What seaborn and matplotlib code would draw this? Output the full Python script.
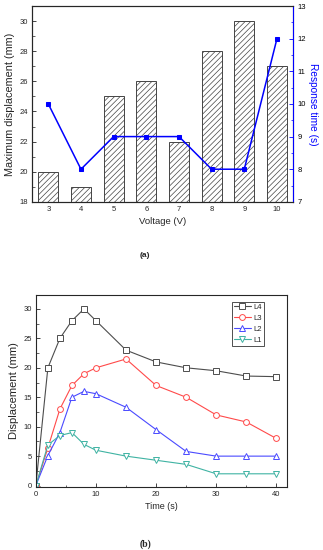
import matplotlib
matplotlib.use("Agg")
import matplotlib.pyplot as plt
import seaborn as sns
import numpy as np
import pandas as pd
from matplotlib.ticker import MultipleLocator

# panel (a)
voltage = [3, 4, 5, 6, 7, 8, 9, 10]
max_disp = [20, 19, 25, 26, 22, 28, 30, 27]
resp_time = [10, 8, 9, 9, 9, 8, 8, 12]

# panel (b)
time_s = [0, 2, 4, 6, 8, 10, 15, 20, 25, 30, 35, 40]
L4 = [0, 20, 25, 28, 30, 28, 23, 21, 20, 19.5, 18.6, 18.5]
L3 = [0, 6.4, 13, 17, 19, 20, 21.5, 17, 15, 12, 10.8, 8]
L2 = [0, 5.1, 9, 15, 16, 15.6, 13.3, 9.5, 5.8, 5, 5, 5]
L1 = [0, 6.9, 8.5, 9, 7, 6, 5, 4.3, 3.6, 2, 2, 2]
series_names = ['L4', 'L3', 'L2', 'L1']
series_vals = [L4, L3, L2, L1]
series_colors = ['#4d4d4d', '#ff4a4a', '#4a4aff', '#3fb3a3']
series_markers = ['s', 'o', '^', 'v']

sns.set_style('ticks')
plt.rcParams['font.family'] = ['Liberation Sans', 'DejaVu Sans']
plt.rcParams['hatch.linewidth'] = 0.5
plt.rcParams['axes.linewidth'] = 0.8

fig = plt.figure(figsize=[3.23, 5.5], dpi=100, facecolor='white')

# ---- (a) bars + response time
ax = fig.add_axes([0.099, 0.633, 0.809, 0.356])
sns.barplot(x=voltage, y=max_disp, native_scale=True, width=0.61, color='white',
            edgecolor='#444444', linewidth=0.7, hatch='//////', ax=ax)
ax.set_xlim(2.5, 10.5)
ax.set_ylim(18, 31)
ax.set_xticks(voltage)
ax.yaxis.set_major_locator(MultipleLocator(2))
ax.yaxis.set_minor_locator(MultipleLocator(1))
ax.tick_params(direction='in', labelsize=5.5, length=3, width=0.6, pad=3)
ax.tick_params(which='minor', direction='in', length=1.8, width=0.5)
ax.set_xlabel('Voltage (V)', fontsize=6.8, labelpad=3)
ax.set_ylabel('Maximum displacement (mm)', fontsize=7.8, labelpad=3)

ax2 = ax.twinx()
sns.lineplot(x=voltage, y=resp_time, color='#0000ff', linewidth=1.1, marker='s',
             markersize=3.3, markeredgecolor='#0000ff', ax=ax2)
ax2.set_ylim(7, 13)
ax2.yaxis.set_major_locator(MultipleLocator(1))
ax2.yaxis.set_minor_locator(MultipleLocator(0.5))
ax2.tick_params(direction='in', labelsize=5.5, length=3, width=0.6, pad=3, colors='#0000ff', labelcolor='black')
ax2.tick_params(which='minor', direction='in', length=1.8, width=0.5, colors='#0000ff')
ax2.spines['right'].set_color('#0000ff')
ax2.set_ylabel('Response time (s)', fontsize=7.3, color='#0000ff', rotation=270, labelpad=9)

fig.text(0.449, 0.535, '(a)', fontsize=6, fontweight='bold', ha='center', va='center')

# ---- (b) displacement over time
bx = fig.add_axes([0.111, 0.115, 0.778, 0.349])
for name, vals, c, m in zip(series_names, series_vals, series_colors, series_markers):
    sns.lineplot(x=time_s, y=vals, color=c, linewidth=0.8, marker=m, markersize=4.2,
                 markerfacecolor='white', markeredgecolor=c, markeredgewidth=0.7,
                 label=name, ax=bx)
bx.set_xlim(0, 41.8)
bx.set_ylim(-0.2, 32.4)
bx.xaxis.set_major_locator(MultipleLocator(10))
bx.xaxis.set_minor_locator(MultipleLocator(5))
bx.yaxis.set_major_locator(MultipleLocator(5))
bx.yaxis.set_minor_locator(MultipleLocator(2.5))
bx.tick_params(direction='in', labelsize=5.5, length=3, width=0.6, pad=3)
bx.tick_params(which='minor', direction='in', length=1.8, width=0.5)
bx.set_xlabel('Time (s)', fontsize=6.5, labelpad=3)
bx.set_ylabel('Displacement (mm)', fontsize=8, labelpad=3)
leg = bx.legend(loc='upper right', bbox_to_anchor=(0.907, 0.965), fontsize=5.5,
                frameon=True, fancybox=False, edgecolor='#333333', framealpha=1,
                handlelength=2.2, handletextpad=0.3, labelspacing=0.45,
                borderpad=0.3, borderaxespad=0)
leg.get_frame().set_linewidth(0.6)

fig.text(0.451, 0.01, '(b)', fontsize=7, fontweight='bold', family='Liberation Serif',
         ha='center', va='center')

fig.savefig('out.png', dpi=100, facecolor='white')
